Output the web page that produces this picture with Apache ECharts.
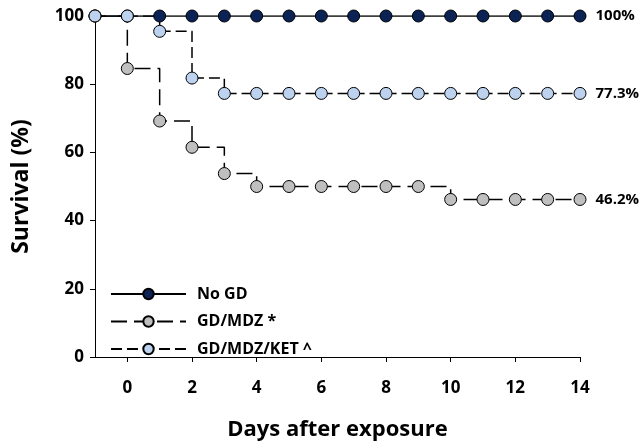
<!DOCTYPE html>
<html><head><meta charset="utf-8">
<script src="https://cdn.jsdelivr.net/npm/echarts@6/dist/echarts.min.js"></script>
<style>html,body{margin:0;padding:0;background:#fff}#c{width:643px;height:443px}</style>
</head><body><div id="c"></div>
<script>
const days = [-1,0,1,2,3,4,5,6,7,8,9,10,11,12,13,14];
const noGD = [100,100,100,100,100,100,100,100,100,100,100,100,100,100,100,100];
const gdMDZ = [100,84.6,69.2,61.5,53.8,50,50,50,50,50,50,46.2,46.2,46.2,46.2,46.2];
const gdMDZKET = [100,100,95.5,81.8,77.3,77.3,77.3,77.3,77.3,77.3,77.3,77.3,77.3,77.3,77.3,77.3];
const xTicks = [0,2,4,6,8,10,12,14];
const seriesNames = ['No GD','GD/MDZ *','GD/MDZ/KET ^'];
const endLabels = ['100%','46.2%','77.3%'];

const F = '"Open Sans", sans-serif';
function pts(vals){ return days.map((d,i)=>[d, vals[i]]); }
function mk(name, vals, color, dash, endLabel){
  const data = pts(vals);
  const last = data.length-1;
  return {
    name, type:'line', step:'end', data,
    symbol:'circle', symbolSize:12,
    itemStyle:{color, borderColor:'#000', borderWidth:1},
    lineStyle:{color:'#000', width:1.5, type:dash},
    label:{show:true, position:'right', distance:9, fontFamily:F, fontWeight:'bold', fontSize:15, color:'#000',
      formatter:(p)=> p.dataIndex===last ? endLabel : ''},
    emphasis:{disabled:true},
    z: 2
  };
}
const chart = echarts.init(document.getElementById('c'));
chart.setOption({
  animation:false,
  grid:{left:95, right:63, top:16, bottom:86, outerBoundsMode:'none', containLabel:false},
  legend:{
    left:105, top:281, orient:'vertical', itemWidth:75, itemHeight:13, itemGap:11.5,
    textStyle:{fontFamily:F, fontWeight:'bold', fontSize:16, color:'#000', padding:[0,0,0,6]},
    data: seriesNames
  },
  xAxis:{
    type:'value', min:-1, max:14,
    name:'Days after exposure', nameLocation:'middle', nameGap:62,
    nameTextStyle:{fontFamily:F, fontWeight:'bold', fontSize:22, color:'#000'},
    axisLine:{show:true, onZero:false, lineStyle:{color:'#000', width:1}},
    axisTick:{show:true, length:5, customValues:xTicks, lineStyle:{color:'#000'}},
    axisLabel:{customValues:xTicks, fontFamily:F, fontWeight:'bold', fontSize:17, color:'#000', margin:23},
    splitLine:{show:false}
  },
  yAxis:{
    type:'value', min:0, max:100, interval:20,
    name:'Survival (%)', nameLocation:'middle', nameGap:62, nameRotate:90,
    nameTextStyle:{fontFamily:F, fontWeight:'bold', fontSize:23, color:'#000'},
    axisLine:{show:true, onZero:false, lineStyle:{color:'#000', width:1}},
    axisTick:{show:true, length:5, lineStyle:{color:'#000'}},
    axisLabel:{fontFamily:F, fontWeight:'bold', fontSize:17, color:'#000', margin:11},
    splitLine:{show:false}
  },
  series:[
    mk(seriesNames[0], noGD, '#0b2255', 'solid', endLabels[0]),
    mk(seriesNames[1], gdMDZ, '#bfbfbf', [16,7], endLabels[1]),
    mk(seriesNames[2], gdMDZKET, '#bcd2ee', [11,5], endLabels[2])
  ]
});
</script></body></html>
